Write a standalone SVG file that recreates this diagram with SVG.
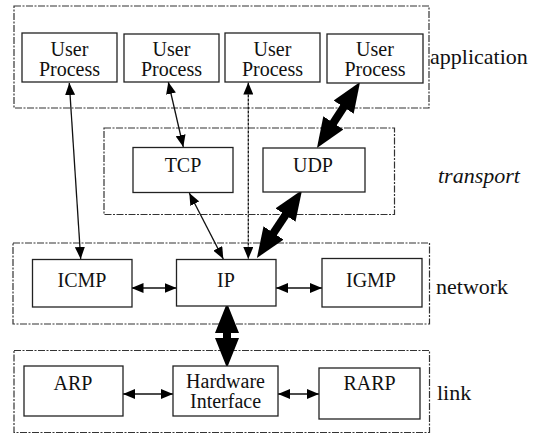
<svg xmlns="http://www.w3.org/2000/svg" width="540" height="434" viewBox="0 0 540 434">
<style>
.layer{fill:none;stroke:#333;stroke-width:1.2;stroke-dasharray:7 1.5 2 1.5}
.box{fill:#fff;stroke:#222;stroke-width:1.3}
.t{font-size:20px;fill:#111;text-anchor:middle}
.up{font-size:20px}
.lbl{font-size:22px;fill:#111}
.thin{stroke:#111;stroke-width:1.3;fill:none;marker-start:url(#ah);marker-end:url(#ah)}
.dot{stroke-dasharray:3 1}
.thick{stroke:#000;stroke-width:8;fill:none;marker-start:url(#big);marker-end:url(#big)}
</style>
<defs>
<marker id="ah" viewBox="0 0 12 10" refX="12" refY="5" markerWidth="12" markerHeight="10" markerUnits="userSpaceOnUse" orient="auto-start-reverse">
<path d="M0,0 L12,5 L0,10 z" fill="#000"/>
</marker>
<marker id="big" viewBox="0 0 30 24" refX="10" refY="12" markerWidth="30" markerHeight="24" markerUnits="userSpaceOnUse" orient="auto-start-reverse">
<path d="M0,0 L30,12 L0,24 z" fill="#000"/>
</marker>
</defs>
<g font-family="'Liberation Serif', 'Times New Roman', 'DejaVu Serif', serif">
<g id="layers">
<rect class="layer" x="14" y="6" width="415" height="102"/>
<rect class="layer" x="104" y="128" width="290.5" height="86.5"/>
<rect class="layer" x="13" y="243" width="416.5" height="81"/>
<rect class="layer" x="14" y="350.5" width="415.5" height="82"/>
<text class="lbl" x="430" y="64">application</text>
<text class="lbl" x="438" y="183" font-style="italic">transport</text>
<text class="lbl" x="436" y="294">network</text>
<text class="lbl" x="437" y="400">link</text>
</g>
<g id="connectors">
<line class="thin" x1="69.3" y1="83" x2="80.7" y2="259"/>
<line class="thin" x1="168.3" y1="82" x2="183.3" y2="147"/>
<line class="thin" x1="189.3" y1="193" x2="223.3" y2="259"/>
<line class="thin dot" x1="248.3" y1="82.5" x2="248.3" y2="259"/>
<line class="thin" x1="131.5" y1="288" x2="176.5" y2="288"/>
<line class="thin" x1="276" y1="288" x2="322" y2="288"/>
<line class="thin" x1="123" y1="394" x2="173" y2="394"/>
<line class="thin" x1="278" y1="394" x2="319" y2="394"/>
<line class="thick" x1="349.1" y1="98.8" x2="327.9" y2="131.2"/>
<line class="thick" x1="291" y1="206.7" x2="268" y2="241.3"/>
<line class="thick" x1="227" y1="323" x2="227" y2="348"/>
</g>
<g id="up1"><rect class="box" x="22" y="33" width="95" height="49"/><text class="t up" x="69.5" y="56">User</text><text class="t up" x="69.5" y="76">Process</text></g>
<g id="up2"><rect class="box" x="124" y="34" width="95" height="48"/><text class="t up" x="171.5" y="56">User</text><text class="t up" x="171.5" y="76">Process</text></g>
<g id="up3"><rect class="box" x="225" y="33" width="95" height="49"/><text class="t up" x="272.5" y="56">User</text><text class="t up" x="272.5" y="76">Process</text></g>
<g id="up4"><rect class="box" x="327" y="34" width="96" height="49"/><text class="t up" x="375" y="56">User</text><text class="t up" x="375" y="76">Process</text></g>
<g id="tcp"><rect class="box" x="133" y="147.5" width="100" height="45"/><text class="t" x="183" y="172">TCP</text></g>
<g id="udp"><rect class="box" x="263" y="148" width="102" height="44"/><text class="t" x="313" y="172">UDP</text></g>
<g id="icmp"><rect class="box" x="32.5" y="259.5" width="99.5" height="47.5"/><text class="t" x="82" y="287">ICMP</text></g>
<g id="ip"><rect class="box" x="176.5" y="259.5" width="99.5" height="46.5"/><text class="t" x="226" y="287">IP</text></g>
<g id="igmp"><rect class="box" x="322" y="258.5" width="100" height="48.5"/><text class="t" x="371" y="287">IGMP</text></g>
<g id="arp"><rect class="box" x="24" y="366" width="99" height="50"/><text class="t" x="73" y="390">ARP</text></g>
<g id="hw"><rect class="box" x="173" y="366" width="105" height="50"/><text class="t" x="225.5" y="388">Hardware</text><text class="t" x="225.5" y="408">Interface</text></g>
<g id="rarp"><rect class="box" x="319" y="368" width="101" height="51"/><text class="t" x="369.5" y="390">RARP</text></g>
</g>
</svg>
